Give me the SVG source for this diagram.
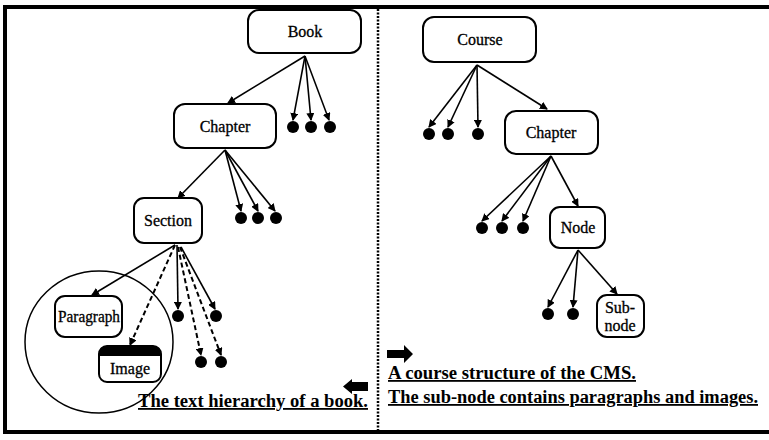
<svg xmlns="http://www.w3.org/2000/svg" width="769" height="440" viewBox="0 0 769 440">
  <style>
    .box { fill: #fff; stroke: #000; stroke-width: 2; }
    .lbl { font-family: "Liberation Serif", "Times New Roman", serif; font-size: 16px; fill: #000; stroke: #000; stroke-width: 0.3; text-anchor: middle; }
    .cap { font-family: "Liberation Serif", "Times New Roman", serif; font-size: 18px; font-weight: bold; fill: #000; text-decoration: underline; }
    .edge { stroke: #000; stroke-width: 1.6; fill: none; marker-end: url(#arrow); }
    .dash { stroke-dasharray: 5 3; stroke-width: 2; }
    .dot { fill: #000; }
  </style>
  <defs>
    <marker id="arrow" markerUnits="userSpaceOnUse" markerWidth="8" markerHeight="8" refX="7" refY="4" orient="auto">
      <path d="M0,0 L8,4 L0,8 z" fill="#000"/>
    </marker>
  </defs>

  <rect width="769" height="440" fill="#fff"/>

  <!-- outer frame and centre divider -->
  <g id="frame">
    <rect x="5" y="7" width="775" height="425" fill="none" stroke="#000" stroke-width="4"/>
    <line x1="378" y1="9" x2="378" y2="430" stroke="#000" stroke-width="2.5" stroke-dasharray="2 1.5"/>
  </g>

  <!-- connectors -->
  <g id="connectors">
    <!-- Book -->
    <line class="edge" x1="305" y1="56" x2="228" y2="103"/>
    <line class="edge" x1="305" y1="56" x2="293" y2="120"/>
    <line class="edge" x1="305" y1="56" x2="311" y2="120"/>
    <line class="edge" x1="305" y1="56" x2="329" y2="120"/>
    <!-- Chapter (left) -->
    <line class="edge" x1="225" y1="150" x2="178" y2="198"/>
    <line class="edge" x1="225" y1="150" x2="241" y2="211"/>
    <line class="edge" x1="225" y1="150" x2="258" y2="211"/>
    <line class="edge" x1="225" y1="150" x2="275" y2="211"/>
    <!-- Section -->
    <line class="edge" x1="175" y1="245" x2="92" y2="295"/>
    <line class="edge dash" x1="175" y1="245" x2="130" y2="345"/>
    <line class="edge" x1="177" y1="245" x2="178" y2="309"/>
    <line class="edge dash" x1="178" y1="247" x2="201" y2="355"/>
    <line class="edge dash" x1="180" y1="247" x2="221" y2="355"/>
    <line class="edge" x1="181" y1="247" x2="215" y2="309"/>
    <!-- Course -->
    <line class="edge" x1="477" y1="65" x2="429" y2="127"/>
    <line class="edge" x1="477" y1="65" x2="448" y2="127"/>
    <line class="edge" x1="477" y1="65" x2="478" y2="127"/>
    <line class="edge" x1="477" y1="65" x2="547" y2="109"/>
    <!-- Chapter (right) -->
    <line class="edge" x1="551" y1="156" x2="482" y2="221"/>
    <line class="edge" x1="551" y1="156" x2="502" y2="221"/>
    <line class="edge" x1="551" y1="156" x2="523" y2="221"/>
    <line class="edge" x1="551" y1="156" x2="578" y2="206"/>
    <!-- Node -->
    <line class="edge" x1="578" y1="250" x2="548" y2="307"/>
    <line class="edge" x1="578" y1="250" x2="573" y2="307"/>
    <line class="edge" x1="578" y1="250" x2="617" y2="294"/>
  </g>

  <!-- leaf dots -->
  <g id="leaves">
    <circle class="dot" cx="293" cy="127" r="6"/>
    <circle class="dot" cx="311" cy="127" r="6"/>
    <circle class="dot" cx="330" cy="127" r="6"/>
    <circle class="dot" cx="241" cy="218" r="6"/>
    <circle class="dot" cx="258" cy="218" r="6"/>
    <circle class="dot" cx="276" cy="218" r="6"/>
    <circle class="dot" cx="178" cy="316" r="6"/>
    <circle class="dot" cx="216" cy="316" r="6"/>
    <circle class="dot" cx="201" cy="362" r="6"/>
    <circle class="dot" cx="221" cy="362" r="6"/>
    <circle class="dot" cx="429" cy="134" r="6"/>
    <circle class="dot" cx="448" cy="134" r="6"/>
    <circle class="dot" cx="478" cy="134" r="6"/>
    <circle class="dot" cx="482" cy="228" r="6"/>
    <circle class="dot" cx="502" cy="228" r="6"/>
    <circle class="dot" cx="523" cy="228" r="6"/>
    <circle class="dot" cx="548" cy="314" r="6"/>
    <circle class="dot" cx="573" cy="314" r="6"/>
  </g>

  <!-- grouping circle round Paragraph and Image -->
  <ellipse cx="99" cy="342" rx="74" ry="71" fill="none" stroke="#000" stroke-width="1.5"/>

  <!-- text hierarchy of a book -->
  <g id="book">
    <rect class="box" x="248" y="10" width="113" height="43" rx="11"/>
    <text class="lbl" x="305" y="37">Book</text>
  </g>
  <g id="chapter-left">
    <rect class="box" x="174" y="104" width="102" height="44" rx="11"/>
    <text class="lbl" x="225" y="132">Chapter</text>
  </g>
  <g id="section">
    <rect class="box" x="134" y="198" width="68" height="45" rx="10"/>
    <text class="lbl" x="168" y="226">Section</text>
  </g>
  <g id="paragraph">
    <rect class="box" x="55" y="296" width="67" height="41" rx="10"/>
    <text class="lbl" x="89" y="322" textLength="62" lengthAdjust="spacingAndGlyphs">Paragraph</text>
  </g>
  <g id="image">
    <rect class="box" x="99" y="346" width="62" height="36" rx="8"/>
    <path d="M99,356 V354 Q99,346 107,346 H153 Q161,346 161,354 V356 Z" fill="#000"/>
    <text class="lbl" x="130" y="374">Image</text>
  </g>

  <!-- course structure of the CMS -->
  <g id="course">
    <rect class="box" x="423" y="17" width="113" height="45" rx="11"/>
    <text class="lbl" x="480" y="45">Course</text>
  </g>
  <g id="chapter-right">
    <rect class="box" x="505" y="111" width="93" height="43" rx="11"/>
    <text class="lbl" x="551" y="138">Chapter</text>
  </g>
  <g id="node">
    <rect class="box" x="550" y="207" width="55" height="41" rx="10"/>
    <text class="lbl" x="578" y="233">Node</text>
  </g>
  <g id="sub-node">
    <rect class="box" x="597" y="295" width="47" height="42" rx="10"/>
    <text class="lbl" x="620" y="313">Sub-</text>
    <text class="lbl" x="620" y="331">node</text>
  </g>

  <!-- block arrows -->
  <g id="arrows">
    <path d="M368,382 H352 V379 L343,386.5 L352,394 V391 H368 Z" fill="#000"/>
    <path d="M387,350 H404 V345 L413,354 L404,363 V358 H387 Z" fill="#000"/>
  </g>

  <!-- captions -->
  <g id="captions">
    <text class="cap" x="138" y="407" textLength="230" lengthAdjust="spacingAndGlyphs">The text hierarchy of a book.</text>
    <text class="cap" x="388" y="379" textLength="248" lengthAdjust="spacingAndGlyphs">A course structure of the CMS.</text>
    <text class="cap" x="388" y="403" textLength="370" lengthAdjust="spacingAndGlyphs">The sub-node contains paragraphs and images.</text>
  </g>
</svg>
